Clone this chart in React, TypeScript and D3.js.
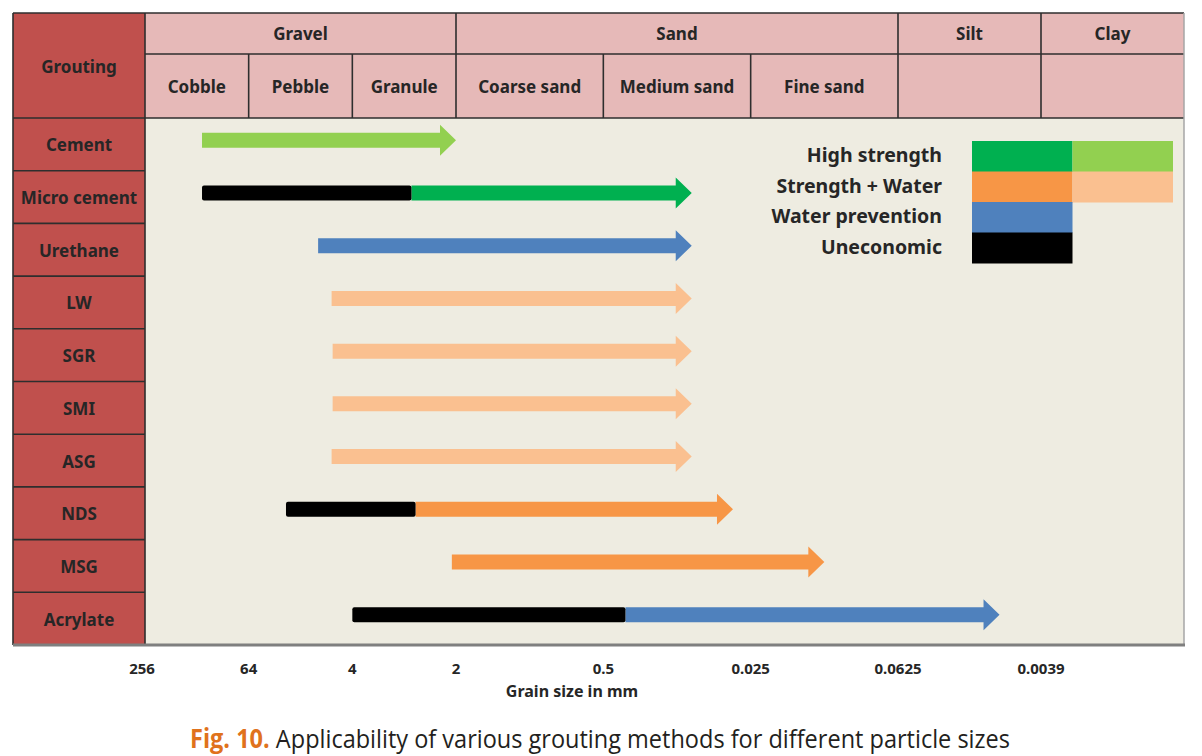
import React from "react";
import * as d3 from "d3";

// soil classes along the top (spans are in sub-column units)
const groups = ["Gravel", "Sand", "Silt", "Clay"];
const groupSpans = [[0, 3], [3, 6], [6, 7], [7, 8]];
const subclasses = ["Cobble", "Pebble", "Granule", "Coarse sand", "Medium sand", "Fine sand", "", ""];
const grainTicks = ["256", "64", "4", "2", "0.5", "0.025", "0.0625", "0.0039"];

// grouting methods and their applicable range (in column units)
const methods = ["Cement", "Micro cement", "Urethane", "LW", "SGR", "SMI", "ASG", "NDS", "MSG", "Acrylate"];
const rangeFrom = [0.55, 0.55, 1.67, 1.8, 1.81, 1.81, 1.8, 1.36, 2.96, 2.0];
const uneconomicTo = [null, 2.57, null, null, null, null, null, 2.61, null, 4.15];
const rangeTo = [3.0, 4.6, 4.6, 4.6, 4.6, 4.6, 4.6, 4.88, 5.5, 6.71];
const rangeType = ["hsLight", "hs", "wp", "swLight", "swLight", "swLight", "swLight", "sw", "sw", "wp"];

const legendLabels = ["High strength", "Strength + Water", "Water prevention", "Uneconomic"];
const legendDark = ["hs", "sw", "wp", "un"];
const legendLight = ["hsLight", "swLight", null, null];

const colors: Record<string, string> = {
  hs: "#00b050",
  hsLight: "#92d050",
  sw: "#f79646",
  swLight: "#fac090",
  wp: "#4f81bd",
  un: "#000000",
};

const W = 1202;
const H = 756;
const left = 13;
const colLeft = 145;
const right = 1184;
const top = 13;
const midHeader = 54;
const headerBottom = 118;
const bodyBottom = 645;

const font = "'Noto Sans', 'Open Sans', sans-serif";
const ink = "#262626";

export default function App() {
  const x = d3.scaleLinear().domain([0, 3, 6, 7, 8]).range([colLeft, 456, 898, 1041, right]);
  const y = d3.scaleBand<string>().domain(methods).range([headerBottom, bodyBottom]);

  const shaft = 15;
  const headH = 31;
  const headL = 16;

  const arrowPath = (x0: number, x1: number, cy: number) => {
    const p = d3.path();
    p.moveTo(x0, cy - shaft / 2);
    p.lineTo(x1 - headL, cy - shaft / 2);
    p.lineTo(x1 - headL, cy - headH / 2);
    p.lineTo(x1, cy);
    p.lineTo(x1 - headL, cy + headH / 2);
    p.lineTo(x1 - headL, cy + shaft / 2);
    p.lineTo(x0, cy + shaft / 2);
    p.closePath();
    return p.toString();
  };

  const lgX = 972;
  const lgW = 100.5;
  const lgY = 141;
  const lgH = 30.5;

  return (
    <svg width={W} height={H} style={{ position: "absolute", left: 0, top: 0, background: "#fff" }}>
      {/* body background */}
      <rect x={colLeft} y={headerBottom} width={right - colLeft} height={bodyBottom - headerBottom} fill="#eeece1" />
      {/* header background */}
      <rect x={colLeft} y={top} width={right - colLeft} height={headerBottom - top} fill="#e6b9b8" />
      {/* grouting column */}
      <rect x={left} y={top} width={colLeft - left} height={bodyBottom - top} fill="#c0504d" />

      {/* header grid */}
      <g stroke="#2e2e2e" strokeWidth={1.6}>
        <line x1={left} x2={right} y1={top} y2={top} />
        <line x1={colLeft} x2={right} y1={midHeader} y2={midHeader} />
        <line x1={left} x2={right} y1={headerBottom} y2={headerBottom} />
        <line x1={left} x2={left} y1={top} y2={bodyBottom} />
        <line x1={colLeft} x2={colLeft} y1={top} y2={bodyBottom} />
        {groupSpans.slice(1).map((s, i) => (
          <line key={"g" + i} x1={x(s[0])} x2={x(s[0])} y1={top} y2={headerBottom} />
        ))}
        {subclasses.map((_, i) =>
          i === 0 || groupSpans.some((s) => s[0] === i) ? null : (
            <line key={"s" + i} x1={x(i)} x2={x(i)} y1={midHeader} y2={headerBottom} />
          )
        )}
        {methods.slice(1).map((m) => (
          <line key={"r" + m} x1={left} x2={colLeft} y1={y(m)!} y2={y(m)!} />
        ))}
      </g>
      <line x1={right} x2={right} y1={top} y2={bodyBottom} stroke="#a6a6a6" strokeWidth={1.5} />
      <line x1={left} x2={right + 1} y1={bodyBottom} y2={bodyBottom} stroke="#7f7f7f" strokeWidth={3} />

      {/* header text */}
      <g fontFamily={font} fontWeight={700} fontSize={17} fill={ink} textAnchor="middle">
        <text x={(left + colLeft) / 2} y={(top + headerBottom) / 2 + 2} dy="0.35em">Grouting</text>
        {groups.map((g, i) => (
          <text key={g} x={(x(groupSpans[i][0]) + x(groupSpans[i][1])) / 2} y={(top + midHeader) / 2 + 1} dy="0.35em">
            {g}
          </text>
        ))}
        {subclasses.map((s, i) => (
          <text key={"t" + i} x={(x(i) + x(i + 1)) / 2} y={(midHeader + headerBottom) / 2 + 1} dy="0.35em">
            {s}
          </text>
        ))}
        {methods.map((m) => (
          <text key={m} x={(left + colLeft) / 2} y={y(m)! + y.bandwidth() / 2 + 1} dy="0.35em">
            {m}
          </text>
        ))}
      </g>

      {/* range arrows */}
      {methods.map((m, i) => {
        const cy = y(m)! + y.bandwidth() / 2 - 4;
        const brk = uneconomicTo[i];
        const start = brk == null ? rangeFrom[i] : brk;
        return (
          <g key={"a" + m}>
            <path d={arrowPath(x(start), x(rangeTo[i]), cy)} fill={colors[rangeType[i]]} />
            {brk != null && (
              <rect
                x={x(rangeFrom[i])}
                y={cy - shaft / 2}
                width={x(brk) - x(rangeFrom[i])}
                height={shaft}
                rx={2}
                fill={colors.un}
              />
            )}
          </g>
        );
      })}

      {/* legend */}
      <g fontFamily={font} fontWeight={700} fontSize={19.5} fill={ink}>
        {legendLabels.map((l, i) => (
          <g key={l}>
            <text x={942} y={lgY + lgH * i + lgH / 2 - 1} dy="0.35em" textAnchor="end">
              {l}
            </text>
            <rect x={lgX} y={lgY + lgH * i} width={lgW} height={lgH + 0.5} fill={colors[legendDark[i]]} />
            {legendLight[i] && (
              <rect x={lgX + lgW} y={lgY + lgH * i} width={lgW} height={lgH + 0.5} fill={colors[legendLight[i]!]} />
            )}
          </g>
        ))}
      </g>

      {/* grain size axis */}
      <g fontFamily={font} fontWeight={700} fill={ink} textAnchor="middle">
        {grainTicks.map((t, i) => (
          <text key={t} x={x(i) - (i === 0 ? 3 : 0)} y={669} dy="0.35em" fontSize={15}>
            {t}
          </text>
        ))}
        <text x={572} y={691.5} dy="0.35em" fontSize={16}>Grain size in mm</text>
      </g>

      {/* caption */}
      <text
        x={600}
        y={748}
        textAnchor="middle"
        fontFamily="'Open Sans', 'Noto Sans', sans-serif"
        fontSize={26}
        fill="#231f20"
        textLength={820}
        lengthAdjust="spacingAndGlyphs"
      >
        <tspan fill="#e0721c" fontWeight={700}>Fig. 10.</tspan> Applicability of various grouting methods for different particle sizes
      </text>
    </svg>
  );
}
